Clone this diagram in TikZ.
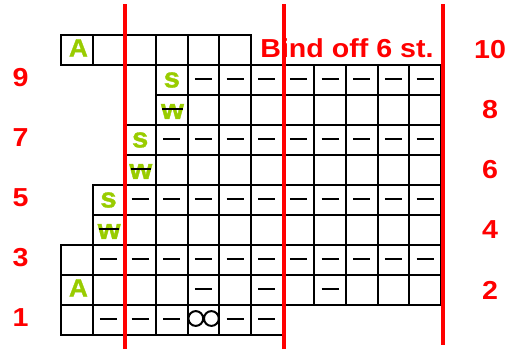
\documentclass[tikz,border=0pt]{standalone}
\usepackage{fontspec}
\newfontfamily\chartfont{Liberation Sans}[FakeStretch=1.1]
\newfontfamily\symfont{Liberation Sans}[FakeStretch=1.05, FakeBold=1.2]
\usetikzlibrary{calc}
\definecolor{knitgreen}{HTML}{99CC00}

\begin{document}
\begin{tikzpicture}[
    x=31.67pt, y=30pt,
    cellbox/.style = {draw=black, line width=1.9pt},
    purl/.style    = {draw=black, line width=2pt},
    redline/.style = {draw=red, line width=3.6pt},
    rowlab/.style  = {font=\chartfont\bfseries\fontsize{26}{30}\selectfont, text=red, inner sep=0pt},
    sym/.style     = {font=\symfont\bfseries\fontsize{25}{30}\selectfont, text=knitgreen, inner sep=0pt},
    lsym/.style    = {font=\symfont\bfseries\fontsize{28}{30}\selectfont, text=knitgreen, inner sep=0pt}
  ]
  \useasboundingbox (-61pt,-14pt) rectangle ++(510pt,349pt);

  % --- chart cells (row / first column / last column) ---
  \foreach \r/\a/\b in {1/0/6, 2/0/11, 3/0/11, 4/1/11, 5/1/11,
                        6/2/11, 7/2/11, 8/3/11, 9/3/11, 10/0/5}
    \foreach \c in {\a,...,\b}
      \draw[cellbox] (\c,\r-1) rectangle ++(1,1);

  % --- purl dashes ---
  \foreach \r/\c in {1/1, 1/2, 1/3, 1/5, 1/6, 2/4, 2/6, 2/8}
    \draw[purl] (\c+0.23,\r-0.45) -- ++(0.54,0);
  \foreach \r/\a in {3/1, 5/2, 7/3, 9/4}
    \foreach \c in {\a,...,11}
      \draw[purl] (\c+0.23,\r-0.45) -- ++(0.54,0);

  % --- double loop in row 1 ---
  \draw[purl] (4,0.55) ++(8.1pt,0) circle[radius=7.4pt] ++(15.6pt,0) circle[radius=7.4pt];

  % --- green stitch symbols ---
  \node[sym]  (A2)  at (0.55,1.57) {A};
  \node[sym]  (A10) at (0.55,9.57) {A};
  \node[lsym] (s5)  at (1.5,4.5) {s};
  \node[lsym] (s7)  at (2.5,6.5) {s};
  \node[lsym] (s9)  at (3.5,8.5) {s};
  \node[lsym] (w4)  at (1.52,3.45) {w};
  \node[lsym] (w6)  at (2.52,5.45) {w};
  \node[lsym] (w8)  at (3.52,7.45) {w};
  \foreach \w in {w4, w6, w8}
    \draw[purl, line width=1.7pt] ([xshift=-10.3pt,yshift=2.5pt]\w.center)
                               -- ([xshift=10.3pt,yshift=2.5pt]\w.center);

  % --- red section lines ---
  \draw[redline] (2.02,11.03) -- (2.02,-0.47);
  \draw[redline] (7.04,11.03) -- (7.04,-0.47);
  \draw[redline] (12.06,11.03) -- (12.06,-0.33);

  % --- row numbers ---
  \foreach \r in {1,3,5,7,9}
    \node[rowlab] (L\r) at (-1.28,\r-0.43) {\r};
  \foreach \r in {2,4,6,8,10}
    \node[rowlab] (R\r) at (13.55,\r-0.5) {\r};

  % --- bind off note ---
  \node[rowlab] (bind) at (9.03,9.55) {Bind off 6 st.};

\end{tikzpicture}
\end{document}
